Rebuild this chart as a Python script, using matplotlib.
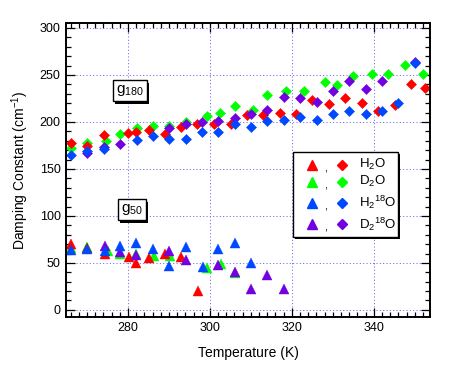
import matplotlib
matplotlib.use("Agg")
import matplotlib.pyplot as plt
import matplotlib.patheffects as pe
from matplotlib.patches import Rectangle
from matplotlib.ticker import MultipleLocator

plt.rcParams["font.family"] = ["Liberation Sans", "DejaVu Sans"]
plt.rcParams["mathtext.fontset"] = "custom"
plt.rcParams["mathtext.rm"] = "Liberation Sans"
plt.rcParams["mathtext.it"] = "Liberation Sans"

# ---- g180 (diamonds) ----
h2o_t_180 = [266.2, 270.1, 274.2, 280.0, 282.0, 285.2, 289.1, 292.9, 296.9, 301.0, 305.1, 309.1,
             313.0, 317.1, 321.0, 324.9, 329.1, 333.0, 337.1, 341.0, 345.1, 349.0, 352.5]
h2o_g180 = [177.3, 174.5, 186.2, 188.0, 189.4, 191.5, 187.0, 195.0, 197.9, 197.6, 197.6, 206.9,
            206.9, 209.3, 208.5, 223.4, 219.0, 225.3, 220.2, 211.7, 218.1, 240.4, 235.9]

d2o_t_180 = [266.2, 270.1, 274.6, 278.1, 282.1, 286.2, 290.0, 294.1, 299.2, 302.5, 306.2, 310.5,
             314.0, 318.5, 322.9, 328.1, 331.0, 334.9, 339.5, 343.5, 347.6, 352.0]
d2o_g180 = [172.0, 177.3, 179.5, 187.2, 193.3, 195.7, 195.7, 199.7, 205.9, 209.3, 216.8, 212.8,
            228.4, 233.0, 233.0, 242.6, 239.0, 248.9, 250.7, 251.0, 260.6, 250.7]

h218o_t_180 = [266.2, 270.1, 274.2, 282.1, 286.2, 290.1, 294.1, 298.1, 302.0, 306.2, 310.0,
               314.0, 318.1, 322.0, 326.2, 330.1, 334.0, 338.2, 342.0, 345.9, 350.1]
h218o_g180 = [164.6, 169.5, 171.3, 181.2, 184.9, 181.6, 181.6, 189.1, 189.1, 197.7, 194.4,
              200.7, 201.9, 205.1, 202.1, 208.2, 211.7, 208.8, 211.7, 220.2, 262.8]

d218o_t_180 = [270.1, 274.2, 278.1, 290.1, 294.1, 298.1, 302.0, 306.1, 310.0, 314.0, 318.1,
               322.0, 326.2, 330.1, 334.0, 338.1, 342.0, 350.1]
d218o_g180 = [166.7, 173.1, 176.6, 193.1, 197.7, 199.7, 200.9, 203.9, 208.2, 212.8, 226.3,
              225.5, 221.0, 232.8, 243.4, 235.1, 243.6, 263.3]

# ---- g50 (triangles) ----
h2o_t_50 = [266.2, 270.1, 274.3, 280.2, 282.0, 285.2, 289.1, 292.9, 297.1]
h2o_g50 = [69.9, 66.0, 59.3, 56.1, 49.7, 55.0, 59.3, 56.1, 20.2]

d2o_t_50 = [266.2, 270.1, 275.1, 278.1, 282.0, 286.3, 290.2, 299.2, 302.6, 306.2]
d2o_g50 = [66.0, 67.0, 62.8, 59.3, 59.3, 57.4, 57.4, 44.4, 48.6, 39.4]

h218o_t_50 = [266.2, 270.1, 274.3, 278.1, 282.0, 286.2, 290.1, 294.1, 298.2, 302.0, 306.2, 310.1]
h218o_g50 = [64.1, 64.9, 62.4, 68.4, 71.6, 65.2, 46.5, 67.3, 46.1, 64.6, 70.7, 50.3]

d218o_t_50 = [274.3, 278.1, 282.0, 290.1, 294.1, 302.0, 306.2, 310.1, 314.0, 318.1]
d218o_g50 = [68.4, 61.4, 58.2, 63.1, 53.2, 47.3, 39.9, 22.7, 37.6, 22.7]

labels = ["H$_2$O", "D$_2$O", "H$_2$$^{18}$O", "D$_2$$^{18}$O"]
colors = ["#ff0000", "#00ff00", "#0048ff", "#7200e0"]

series = [
    (h2o_t_180, h2o_g180, h2o_t_50, h2o_g50),
    (d2o_t_180, d2o_g180, d2o_t_50, d2o_g50),
    (h218o_t_180, h218o_g180, h218o_t_50, h218o_g50),
    (d218o_t_180, d218o_g180, d218o_t_50, d218o_g50),
]
draw_order = [1, 0, 3, 2]

fig = plt.figure(figsize=(4.53, 3.68), dpi=100)
ax = fig.add_axes([0.146, 0.139, 0.803, 0.7985])

for i in draw_order:
    t180, g180, t50, g50 = series[i]
    ax.plot(t180, g180, ls="none", marker="D", ms=4.9, color=colors[i], mec=colors[i], mew=0.4)
    ax.plot(t50, g50, ls="none", marker="^", ms=6.8, color=colors[i], mec=colors[i], mew=0.3)

ax.set_xlim(264.9, 353.7)
ax.set_ylim(-7.4, 305.3)
ax.xaxis.set_major_locator(MultipleLocator(20))
ax.xaxis.set_minor_locator(MultipleLocator(2))
ax.yaxis.set_major_locator(MultipleLocator(50))
ax.yaxis.set_minor_locator(MultipleLocator(10))
ax.tick_params(which="both", direction="in", top=True, right=True, width=0.9, labelsize=9, pad=4)
ax.tick_params(which="major", length=6.5)
ax.tick_params(which="minor", length=3.5)
for s in ax.spines.values():
    s.set_linewidth(1.4)
ax.grid(True, which="major", color="#6a6aff", ls=(0, (1, 2.2)), lw=0.75)
ax.set_axisbelow(True)

ax.set_xlabel("Temperature (K)", fontsize=10, labelpad=8)
ax.set_ylabel("Damping Constant (cm$^{-1}$)", fontsize=10, labelpad=6)

shadow = [pe.withSimplePatchShadow(offset=(1.6, -1.6), shadow_rgbFace="k", alpha=1.0)]
for txt, (tx, ty) in [("g$_{180}$", (280.5, 233)), ("g$_{50}$", (280.9, 106.4))]:
    t = ax.text(tx, ty, txt, fontsize=11, ha="center", va="center", zorder=5,
                bbox=dict(boxstyle="square,pad=0.2", fc="white", ec="black", lw=1.0))
    t.get_bbox_patch().set_path_effects(shadow)

# legend box
box = Rectangle((0.624, 0.272), 0.288, 0.289, transform=ax.transAxes, fc="white",
                ec="black", lw=1.0, zorder=6)
box.set_path_effects(shadow)
ax.add_patch(box)
rows = [0.517, 0.460, 0.388, 0.316]
for i, yy in enumerate(rows):
    ax.plot([0.675], [yy], transform=ax.transAxes, marker="^", ms=6.8, color=colors[i],
            ls="none", zorder=7, clip_on=False)
    ax.text(0.714, yy - 0.012, ",", transform=ax.transAxes, fontsize=8, ha="center",
            va="center", zorder=7)
    ax.plot([0.759], [yy], transform=ax.transAxes, marker="D", ms=4.9, color=colors[i],
            ls="none", zorder=7, clip_on=False)
    ax.text(0.806, yy, labels[i], transform=ax.transAxes, fontsize=9.5, ha="left",
            va="center", zorder=7)

fig.savefig("out.png", dpi=100)
